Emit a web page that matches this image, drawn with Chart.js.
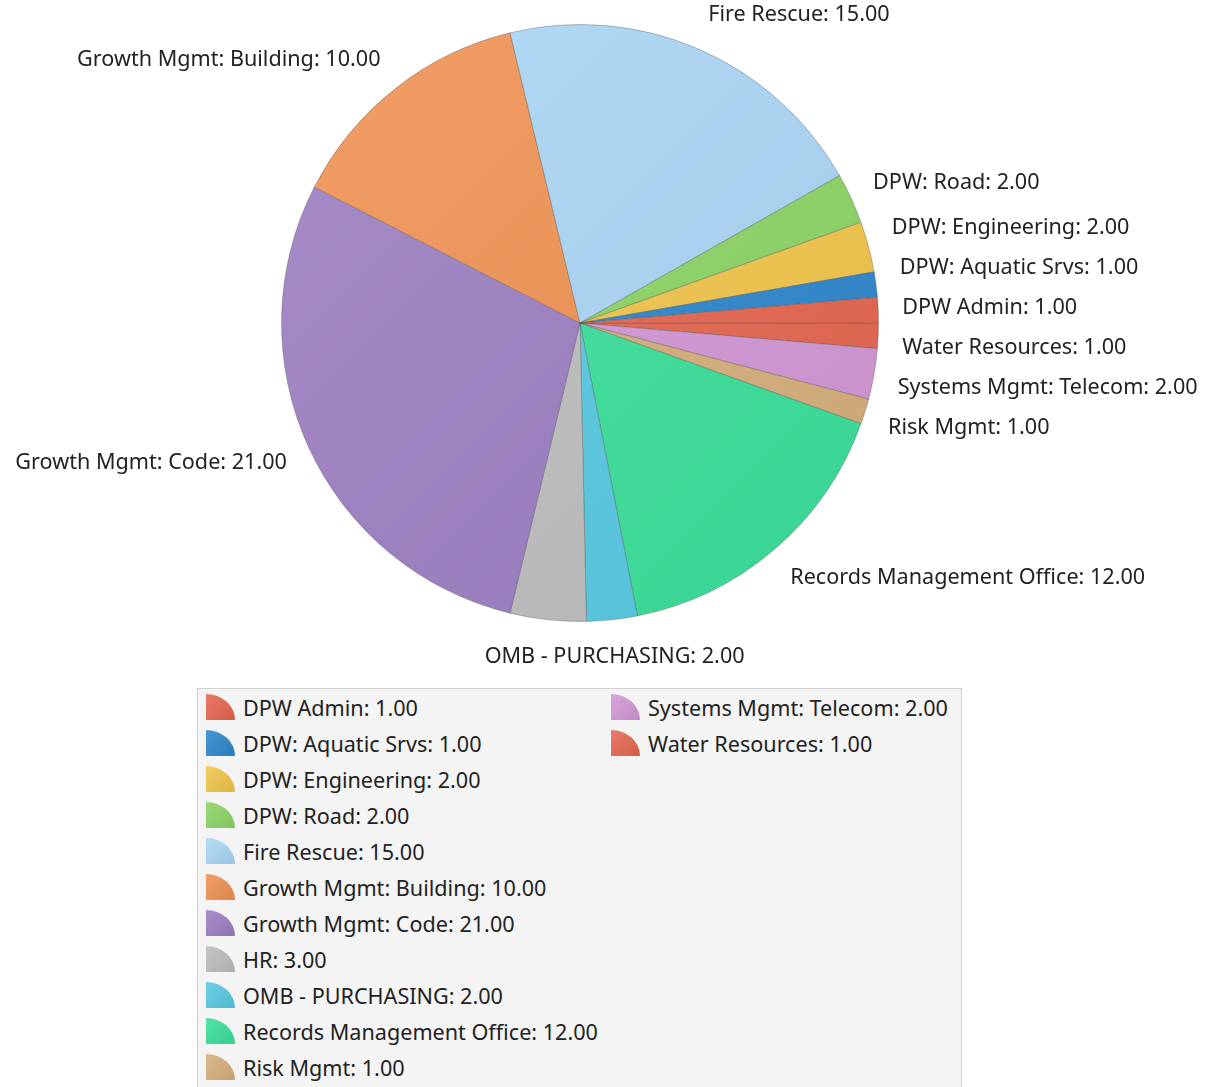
<!DOCTYPE html>
<html>
<head>
<meta charset="utf-8">
<script src="https://cdn.jsdelivr.net/npm/chart.js@4/dist/chart.umd.min.js"></script>
<style>
  body { margin: 0; background: #fff; width: 1207px; height: 1087px; overflow: hidden; font-family: "Noto Sans", sans-serif; }
  #chartBox { position: absolute; left: 0; top: 0; width: 1207px; height: 680px; }
  #legend { position: absolute; left: 197px; top: 688px; width: 765px; height: 430px; border: 1px solid #d0d0d0; background: #f4f4f4; box-sizing: border-box; }
  .item { position: absolute; height: 36px; line-height: 36px; font-size: 21.6px; color: #222; white-space: nowrap; }
  .icon { position: absolute; left: 0; top: 4px; width: 29px; height: 26px; border-top-right-radius: 100% 100%; }
  .item span { position: absolute; left: 37px; top: 0; }
</style>
</head>
<body>
<div id="chartBox"><canvas id="pie"></canvas></div>
<div id="legend"></div>
<script>
// categories in legend order (pie runs counter-clockwise from 3 o'clock in this order)
const departments = [
    "DPW Admin", "DPW: Aquatic Srvs", "DPW: Engineering", "DPW: Road",
    "Fire Rescue", "Growth Mgmt: Building", "Growth Mgmt: Code", "HR",
    "OMB - PURCHASING", "Records Management Office", "Risk Mgmt",
    "Systems Mgmt: Telecom", "Water Resources"
];
const counts = [1, 1, 2, 2, 15, 10, 21, 3, 2, 12, 1, 2, 1];
const sliceColors = [
    "#e4654f", "#2d86cc", "#f1c54a", "#8bd464",
    "#a9d5f5", "#ef9151", "#9b7dc2", "#bdbdbd",
    "#56c9e2", "#3adf9a", "#d6ae7a", "#d396d6", "#e4664f"
];

function labelText(i) {
    return departments[i] + ": " + counts[i].toFixed(2);
}

function shade(hex, amt) {
    var r = parseInt(hex.substr(1, 2), 16), g = parseInt(hex.substr(3, 2), 16), b = parseInt(hex.substr(5, 2), 16);
    if (amt > 0) {
        r = r + (255 - r) * amt; g = g + (255 - g) * amt; b = b + (255 - b) * amt;
    } else {
        r = r * (1 + amt); g = g * (1 + amt); b = b * (1 + amt);
    }
    return "rgb(" + Math.round(r) + "," + Math.round(g) + "," + Math.round(b) + ")";
}

// the chart draws clockwise, so feed it reversed copies
const order = departments.map((d, i) => i).reverse();
const chartLabels = order.map(i => departments[i]);
const chartValues = order.map(i => counts[i]);
const chartColors = order.map(i => sliceColors[i]);

const FONT = '21.6px "Noto Sans", sans-serif';
const GAP = 40;

// outside labels, collisions get dropped (HR)
const outsideLabels = {
    id: "outsideLabels",
    afterDatasetsDraw(chart) {
        const ctx = chart.ctx;
        const meta = chart.getDatasetMeta(0);
        ctx.save();
        ctx.font = FONT;
        ctx.fillStyle = "#222";
        ctx.textBaseline = "middle";
        var items = [];
        meta.data.forEach(function(arc, k) {
            const p = arc.getProps(["x", "y", "startAngle", "endAngle", "outerRadius"], true);
            const mid = (p.startAngle + p.endAngle) / 2;
            const c = Math.cos(mid), s = Math.sin(mid);
            const text = labelText(order[k]);
            const w = ctx.measureText(text).width;
            var align = c > 0.25 ? "left" : (c < -0.25 ? "right" : "center");
            var y0 = p.y + s * (p.outerRadius + 37);
            items.push({
                text: text, w: w, align: align,
                x: p.x + c * (p.outerRadius + 24),
                y: y0, y0: y0
            });
        });
        // spread the crowded labels on the right side, keeping each cluster centred
        var right = items.filter(it => it.align == "left").sort((a, b) => a.y0 - b.y0);
        var blocks = right.map(it => ({ items: [it], top: it.y0 }));
        var merged = true;
        while (merged) {
            merged = false;
            for (let i = 1; i < blocks.length; i++) {
                var prev = blocks[i - 1], cur = blocks[i];
                if (cur.top < prev.top + prev.items.length * GAP) {
                    var all = prev.items.concat(cur.items);
                    var sum = 0;
                    all.forEach((it, k) => { sum += it.y0 - k * GAP; });
                    blocks.splice(i - 1, 2, { items: all, top: sum / all.length });
                    merged = true;
                    break;
                }
            }
        }
        blocks.forEach(b => b.items.forEach((it, k) => { it.y = b.top + k * GAP; }));

        var drawn = [];
        items.forEach(function(it) {
            var left = it.align == "left" ? it.x : (it.align == "right" ? it.x - it.w : it.x - it.w / 2);
            var box = { l: left, r: left + it.w, t: it.y - 12, b: it.y + 12 };
            var hit = drawn.some(d => box.l < d.r && box.r > d.l && box.t < d.b && box.b > d.t);
            if (hit) return;
            drawn.push(box);
            ctx.textAlign = it.align;
            ctx.fillText(it.text, it.x, it.y);
        });
        ctx.restore();
    }
};

function sliceFill(context) {
    const chart = context.chart;
    const area = chart.chartArea;
    const base = chartColors[context.dataIndex];
    if (!area) return base;
    const cx = (area.left + area.right) / 2, cy = (area.top + area.bottom) / 2;
    const r = Math.min(area.width, area.height) / 2;
    const g = chart.ctx.createLinearGradient(cx - r, cy - r, cx + r, cy + r);
    g.addColorStop(0, shade(base, 0.12));
    g.addColorStop(1, shade(base, -0.05));
    return g;
}

const pie = new Chart(document.getElementById("pie"), {
    type: "pie",
    data: {
        labels: chartLabels,
        datasets: [{
            data: chartValues,
            backgroundColor: sliceFill,
            borderColor: "rgba(80,80,80,0.35)",
            borderWidth: 1
        }]
    },
    options: {
        responsive: true,
        maintainAspectRatio: false,
        animation: false,
        rotation: 90,
        layout: { padding: { top: 24, bottom: 58, left: 100, right: 147 } },
        plugins: {
            legend: { display: false },
            tooltip: { enabled: false }
        }
    },
    plugins: [outsideLabels]
});

// legend box, column by column, 11 rows each
const legendBox = document.getElementById("legend");
const rowsPerCol = 11;
departments.forEach(function(name, i) {
    const col = Math.floor(i / rowsPerCol), row = i % rowsPerCol;
    const item = document.createElement("div");
    item.className = "item";
    item.style.left = (8 + col * 405) + "px";
    item.style.top = (1 + row * 36) + "px";
    const icon = document.createElement("div");
    icon.className = "icon";
    icon.style.background = "linear-gradient(135deg, " + shade(sliceColors[i], 0.14) + ", " + shade(sliceColors[i], -0.08) + ")";
    const txt = document.createElement("span");
    txt.textContent = labelText(i);
    item.appendChild(icon);
    item.appendChild(txt);
    legendBox.appendChild(item);
});
</script>
</body>
</html>
